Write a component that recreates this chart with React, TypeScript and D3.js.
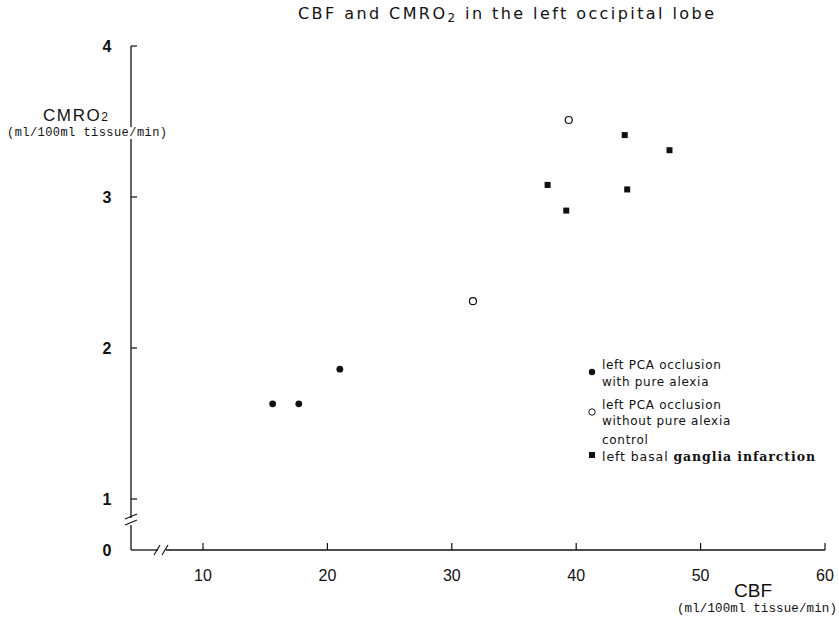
import React from "react";
import * as d3 from "d3";

const title = "CBF and CMRO";
const titleRest = " in the left occipital lobe";
const xTicks = [10, 20, 30, 40, 50, 60];
const yTicks = [1, 2, 3, 4];

const alexiaCBF = [15.6, 17.7, 21.0];
const alexiaCMRO2 = [1.63, 1.63, 1.86];
const noAlexiaCBF = [31.7, 39.4];
const noAlexiaCMRO2 = [2.31, 3.51];
const controlCBF = [37.7, 39.2, 43.9, 44.1, 47.5];
const controlCMRO2 = [3.08, 2.91, 3.41, 3.05, 3.31];

const legendLines = [
  ["left PCA occlusion", "with pure alexia"],
  ["left PCA occlusion", "without pure alexia"],
  ["control", "left basal "],
];
const legendBold = "ganglia infarction";

export default function App() {
  const W = 839, H = 618;
  const x = d3.scaleLinear().domain([10, 60]).range([203, 825]);
  const y = d3.scaleLinear().domain([1, 4]).range([499, 46]);
  const axisX = 131;
  const axisY = 550;
  const ink = "#111";
  const sans = "'Liberation Sans', Arial, sans-serif";
  const mono = "'Liberation Mono', 'DejaVu Sans Mono', monospace";
  const round = "'DejaVu Sans', Verdana, sans-serif";

  const sq = 6;
  const legX = 592;
  const legY = [372, 412, 455];
  const legText = [[364, 381], [404, 420], [439, 456]];

  return (
    <svg width={W} height={H} style={{ position: "absolute", left: 0, top: 0, background: "#fff" }}>
      <rect x={0} y={0} width={W} height={H} fill="#fff" />
      {/* title */}
      <text x={298} y={19} fontFamily={round} fontSize={16} fill={ink} textLength={416} lengthAdjust="spacing">
        {title}
        <tspan fontSize={12} dy={3}>2</tspan>
        <tspan dy={-3}>{titleRest}</tspan>
      </text>

      {/* y axis */}
      <line x1={axisX} y1={y(4)} x2={axisX} y2={518} stroke={ink} strokeWidth={1.3} />
      <line x1={axisX} y1={525} x2={axisX} y2={axisY} stroke={ink} strokeWidth={1.3} />
      <line x1={125} y1={519} x2={137} y2={514} stroke={ink} strokeWidth={1.2} />
      <line x1={125} y1={525} x2={137} y2={520} stroke={ink} strokeWidth={1.2} />
      {yTicks.map((t) => (
        <g key={t}>
          <line x1={axisX} y1={y(t)} x2={axisX + 6} y2={y(t)} stroke={ink} strokeWidth={1.2} />
          <text x={107} y={y(t) + 6} textAnchor="middle" fontFamily={sans} fontWeight="bold" fontSize={16} fill={ink}>{t}</text>
        </g>
      ))}
      <text x={107} y={axisY + 6} textAnchor="middle" fontFamily={sans} fontWeight="bold" fontSize={16} fill={ink}>0</text>

      {/* x axis */}
      <line x1={axisX} y1={axisY} x2={158} y2={axisY} stroke={ink} strokeWidth={1.3} />
      <line x1={166} y1={axisY} x2={x(60)} y2={axisY} stroke={ink} strokeWidth={1.3} />
      <line x1={154} y1={555} x2={160} y2={545} stroke={ink} strokeWidth={1.2} />
      <line x1={162} y1={555} x2={168} y2={545} stroke={ink} strokeWidth={1.2} />
      {xTicks.map((t) => (
        <g key={t}>
          <line x1={x(t)} y1={axisY} x2={x(t)} y2={axisY - 7} stroke={ink} strokeWidth={1.2} />
          <text x={x(t)} y={581} textAnchor="middle" fontFamily={sans} fontSize={16} fill={ink}>{t}</text>
        </g>
      ))}

      {/* axis titles */}
      <text x={753} y={597} textAnchor="middle" fontFamily={sans} fontSize={19} fill={ink}>CBF</text>
      <text x={677} y={612} fontFamily={mono} fontSize={12.5} fill={ink} textLength={160} lengthAdjust="spacing">(ml/100ml tissue/min)</text>

      <text x={43} y={121} fontFamily={sans} fontSize={17} fill={ink} textLength={65} lengthAdjust="spacing">
        CMRO<tspan fontSize={12}>2</tspan>
      </text>
      <rect x={124} y={127} width={14} height={12} fill="#fff" />
      <text x={7} y={136} fontFamily={mono} fontSize={12} fill={ink} textLength={160} lengthAdjust="spacing">(ml/100ml tissue/min)</text>

      {/* data */}
      {alexiaCBF.map((v, i) => (
        <circle key={"a" + i} cx={x(v)} cy={y(alexiaCMRO2[i])} r={3.4} fill={ink} />
      ))}
      {noAlexiaCBF.map((v, i) => (
        <circle key={"n" + i} cx={x(v)} cy={y(noAlexiaCMRO2[i])} r={3.5} fill="#fff" stroke={ink} strokeWidth={1.2} />
      ))}
      {controlCBF.map((v, i) => (
        <rect key={"c" + i} x={x(v) - sq / 2} y={y(controlCMRO2[i]) - sq / 2} width={sq} height={sq} fill={ink} />
      ))}

      {/* legend */}
      <circle cx={legX} cy={legY[0]} r={3.2} fill={ink} />
      <circle cx={legX} cy={legY[1]} r={3.2} fill="#fff" stroke={ink} strokeWidth={1} />
      <rect x={legX - 3} y={legY[2] - 3} width={6} height={6} fill={ink} />
      {legendLines.map((lines, i) => (
        <g key={i}>
          {lines.map((s, j) =>
            i === 2 && j === 1 ? (
              <text key={j} x={602} y={legText[i][j] + 4.5} fontFamily={round} fontSize={12.5} fill={ink} textLength={213} lengthAdjust="spacing">
                {s}
                <tspan fontWeight="bold" fontFamily="'DejaVu Serif', serif">{legendBold}</tspan>
              </text>
            ) : (
              <text key={j} x={602} y={legText[i][j] + 4.5} fontFamily={round} fontSize={12} fill={ink} letterSpacing={0.7}>{s}</text>
            )
          )}
        </g>
      ))}
    </svg>
  );
}
